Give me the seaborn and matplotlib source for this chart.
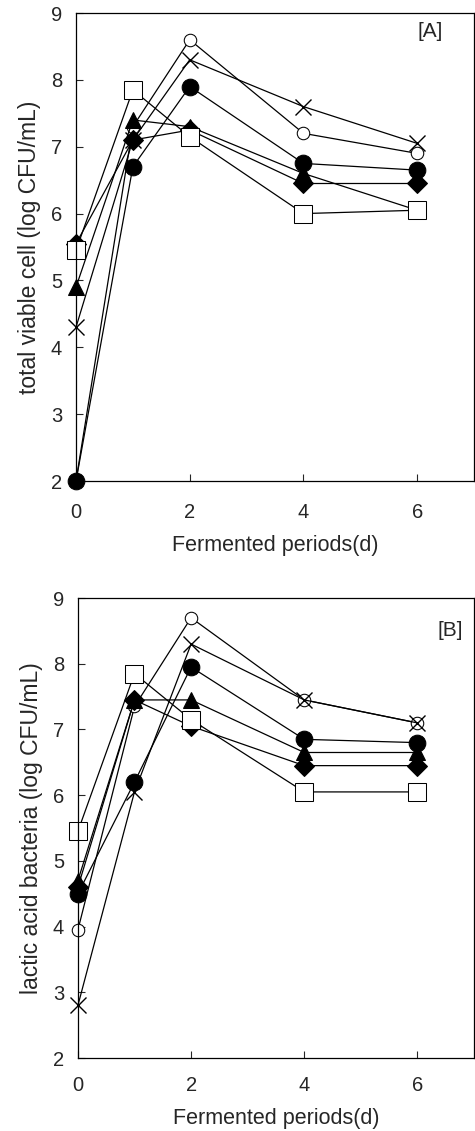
import numpy as np
import pandas as pd
import seaborn as sns
import matplotlib
matplotlib.use("Agg")
import matplotlib.pyplot as plt

# data
days = [0, 1, 2, 4, 6]
series = ["open_circle", "cross", "circle", "diamond", "triangle", "square"]

tvc_open_circle = [2.0, 7.3, 8.6, 7.2, 6.9]
tvc_cross = [4.3, 7.1, 8.3, 7.6, 7.05]
tvc_circle = [2.0, 6.7, 7.9, 6.75, 6.65]
tvc_diamond = [5.55, 7.1, 7.25, 6.45, 6.45]
tvc_triangle = [4.9, 7.4, 7.3, 6.6, 6.05]
tvc_square = [5.45, 7.85, 7.15, 6.0, 6.05]

lab_open_circle = [3.95, 7.35, 8.7, 7.45, 7.1]
lab_cross = [2.8, 6.05, 8.3, 7.45, 7.1]
lab_circle = [4.5, 6.2, 7.95, 6.85, 6.8]
lab_diamond = [4.6, 7.45, 7.05, 6.45, 6.45]
lab_triangle = [4.7, 7.45, 7.45, 6.65, 6.65]
lab_square = [5.45, 7.85, 7.15, 6.05, 6.05]

tvc = [tvc_open_circle, tvc_cross, tvc_circle, tvc_diamond, tvc_triangle, tvc_square]
lab = [lab_open_circle, lab_cross, lab_circle, lab_diamond, lab_triangle, lab_square]

styles = {
    "open_circle": dict(marker="o", markersize=9, markerfacecolor="white"),
    "cross": dict(marker="x", markersize=11, markeredgewidth=1.0),
    "circle": dict(marker="o", markersize=12, markerfacecolor="black"),
    "diamond": dict(marker="D", markersize=10, markerfacecolor="black"),
    "triangle": dict(marker="^", markersize=12, markerfacecolor="black"),
    "square": dict(marker="s", markersize=13, markerfacecolor="white"),
}

sns.set_style("ticks")
plt.rcParams["font.family"] = ["Liberation Sans", "DejaVu Sans"]

fig = plt.figure(figsize=(4.75, 11.31), dpi=100)
ax1 = fig.add_axes([0.16, 0.5747, 0.838, 0.4138])
ax2 = fig.add_axes([0.164, 0.0645, 0.834, 0.4067])

def draw(ax, values, ylabel, tag, tag_xy, xpad):
    for name, vals in zip(series, values):
        df = pd.DataFrame({"day": days, "value": vals})
        sns.lineplot(data=df, x="day", y="value", ax=ax, color="black",
                     linewidth=0.9, markeredgecolor="black", clip_on=False,
                     **styles[name])
    ax.set_xlim(0, 7)
    ax.set_ylim(2, 9)
    ax.set_xticks([0, 2, 4, 6])
    ax.set_yticks(range(2, 10))
    ax.tick_params(direction="in", length=5, width=0.8, labelsize=14.5)
    ax.tick_params(axis="x", pad=xpad)
    ax.tick_params(axis="y", pad=10)
    for s in ax.spines.values():
        s.set_visible(True)
        s.set_linewidth(0.9)
        s.set_color("black")
    ax.set_xlabel("Fermented periods(d)", fontsize=15.5, labelpad=9)
    ax.set_ylabel(ylabel, fontsize=16.5, labelpad=7)
    ax.text(tag_xy[0], tag_xy[1], tag, ha="right", va="center", fontsize=15)

draw(ax1, tvc, "total viable cell (log CFU/mL)", "[A]", (6.45, 8.72), 16)
draw(ax2, lab, "lactic acid bacteria (log CFU/mL)", "[B]", (6.8, 8.5), 13)

fig.savefig("out.png", dpi=100)
